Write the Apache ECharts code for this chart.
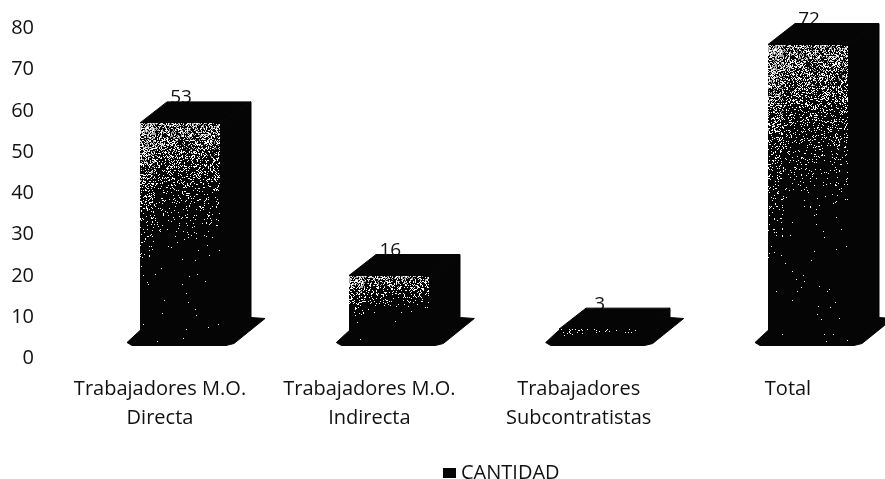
<!DOCTYPE html>
<html>
<head>
<meta charset="utf-8">
<title>CANTIDAD</title>
<style>
  html, body { margin: 0; padding: 0; background: #fff; }
  #chart { width: 885px; height: 479px; }
</style>
<script src="https://cdn.jsdelivr.net/npm/echarts@6/dist/echarts.min.js"></script>
</head>
<body>
<div id="chart"></div>
<script>
const categories = ['Trabajadores M.O.\nDirecta', 'Trabajadores M.O.\nIndirecta', 'Trabajadores\nSubcontratistas', 'Total']
const cantidad = [53, 16, 3, 72]
const seriesName = 'CANTIDAD'

const fontFamily = 'Open Sans'
const ink = '#050505'

// speckled front of a bar, dense at the top and fading into black
const textures = {}
function speckle (w, h) {
  const key = w + 'x' + h
  if (textures[key]) return textures[key]
  const canvas = document.createElement('canvas')
  canvas.width = w
  canvas.height = h
  const ctx = canvas.getContext('2d')
  ctx.fillStyle = ink
  ctx.fillRect(0, 0, w, h)
  const strength = Math.min(1, h / 45)
  let seed = 12345
  for (let y = 0; y < h; y++) {
    for (let x = 0; x < w; x++) {
      seed = (seed * 1103515 + 12345) & 0x7fffffff
      const n = ((seed >> 8) & 1023) / 1023
      const edge = x < w * 0.2 ? 1 : 0.72
      const fade = Math.max(0, 1 - y / (h * (x < w * 0.2 ? 0.85 : 0.68)))
      if (n < 0.72 * Math.pow(fade, 2.4) * edge * strength + 0.002) {
        ctx.fillStyle = n < 0.25 ? '#ffffff' : '#a6a6a6'
        ctx.fillRect(x, y, 1, 1)
      }
    }
  }
  textures[key] = canvas
  return canvas
}

function renderBar (params, api) {
  const center = api.coord([api.value(0), 0])
  const top = api.coord([api.value(0), api.value(1)])
  const cx = center[0]
  const baseY = center[1] - 17 // front of the bar stands above the axis zero
  const topY = top[1] - 17
  const left = Math.round(cx - 20)
  const right = Math.round(cx + 60)
  const dx = 30
  const dy = 21
  const h = Math.max(1, Math.round(baseY - topY))
  const solid = { fill: ink, stroke: ink, lineWidth: 1 }
  return {
    type: 'group',
    children: [
      { // the label sits behind the bar, its foot is cut by the top face
        type: 'text',
        style: {
          text: String(api.value(1)),
          x: cx + 21,
          y: topY - dy - 4,
          align: 'center',
          verticalAlign: 'middle',
          font: '19px "' + fontFamily + '"',
          fill: '#111'
        }
      },
      { // floor
        type: 'polygon',
        shape: {
          points: [
            [cx - 33, baseY + 1], [cx - 28, baseY + 4], [cx + 66, baseY + 4], [cx + 74, baseY + 2],
            [cx + 105, baseY - 23], [cx + 91, baseY - 24], [cx - 20, baseY - 11]
          ]
        },
        style: solid
      },
      { // side
        type: 'polygon',
        shape: {
          points: [[right, topY], [right + dx + 1, topY - dy], [right + dx + 1, baseY - 24], [right, baseY]]
        },
        style: solid
      },
      { // top
        type: 'polygon',
        shape: {
          points: [[left, topY], [left + dx - 3, topY - dy], [right + dx + 1, topY - dy], [right, topY]]
        },
        style: solid
      },
      { // front
        type: 'image',
        style: { image: speckle(right - left, h), x: left, y: Math.round(topY), width: right - left, height: h }
      }
    ]
  }
}

const option = {
  animation: false,
  backgroundColor: '#fff',
  grid: { left: 160, width: 628, top: 28.5, height: 330, containLabel: false },
  legend: {
    top: 458,
    left: 438,
    icon: 'rect',
    itemWidth: 13,
    itemHeight: 10,
    itemGap: 5,
    textStyle: { fontFamily: fontFamily, fontSize: 20, color: '#111' },
    data: [seriesName]
  },
  xAxis: {
    type: 'category',
    boundaryGap: false,
    data: categories,
    axisLine: { show: false },
    axisTick: { show: false },
    splitLine: { show: false },
    axisLabel: {
      interval: 0,
      margin: 16,
      fontFamily: fontFamily,
      fontSize: 20,
      lineHeight: 29,
      color: '#111'
    }
  },
  yAxis: {
    type: 'value',
    min: 0,
    max: 80,
    interval: 10,
    axisLine: { show: false },
    axisTick: { show: false },
    splitLine: { show: false },
    axisLabel: { margin: 126, fontFamily: fontFamily, fontSize: 20, color: '#111' }
  },
  series: [
    {
      name: seriesName,
      type: 'custom',
      clip: false,
      itemStyle: { color: ink },
      encode: { x: 0, y: 1 },
      data: cantidad.map((v, i) => [i, v]),
      renderItem: renderBar
    }
  ]
}

const myChart = echarts.init(document.getElementById('chart'), null, { renderer: 'canvas' })
myChart.setOption(option)
</script>
</body>
</html>
